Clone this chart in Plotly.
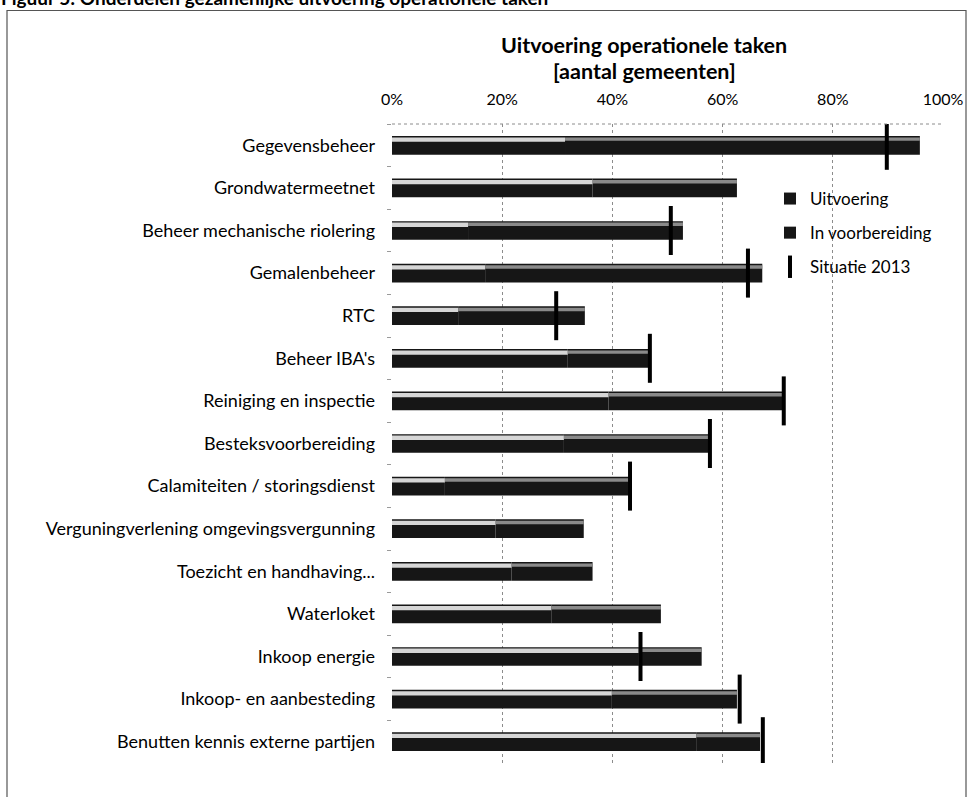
import plotly.graph_objects as go

# ---------------- data ----------------
categories = [
    "Gegevensbeheer",
    "Grondwatermeetnet",
    "Beheer mechanische riolering",
    "Gemalenbeheer",
    "RTC",
    "Beheer IBA's",
    "Reiniging en inspectie",
    "Besteksvoorbereiding",
    "Calamiteiten / storingsdienst",
    "Verguningverlening omgevingsvergunning",
    "Toezicht en handhaving...",
    "Waterloket",
    "Inkoop energie",
    "Inkoop- en aanbesteding",
    "Benutten kennis externe partijen",
]
uitvoering = [31.4, 36.4, 13.8, 16.9, 12.0, 31.9, 39.3, 31.2, 9.6, 18.8, 21.7, 28.9, 44.8, 39.9, 55.2]
voorbereiding = [64.4, 26.2, 39.0, 50.3, 23.0, 14.9, 31.8, 26.5, 33.6, 16.0, 14.7, 19.9, 11.4, 22.7, 11.6]
situatie_2013 = [89.8, None, 50.6, 64.6, 29.8, 46.8, 71.1, 57.7, 43.2, None, None, None, 45.1, 63.1, 67.3]
x_tick_values = [0, 20, 40, 60, 80, 100]
x_tick_labels = ["0%", "20%", "40%", "60%", "80%", "100%"]

# ---------------- layout geometry ----------------
W, H = 973, 797
L, R, T, B = 392, 30, 124, 34
PW, PH = W - L - R, H - T - B


def px_x(px):
    return (px - L) / PW


def px_y(py):
    return 1 - (py - T) / PH


FONT = "Lato, 'Open Sans', sans-serif"
DARK = "#161616"
BAR_W = 0.44
n = len(categories)

fig = go.Figure()

# main (dark) stacked segments
fig.add_trace(go.Bar(
    y=categories, x=uitvoering, base=[0] * n, orientation="h",
    name="Uitvoering", legendgroup="u",
    marker=dict(color=DARK, line=dict(width=0)),
    width=BAR_W, offset=-BAR_W / 2,
))
fig.add_trace(go.Bar(
    y=categories, x=voorbereiding, base=uitvoering, orientation="h",
    name="In voorbereiding", legendgroup="v",
    marker=dict(color=DARK, line=dict(width=0)),
    width=BAR_W, offset=-BAR_W / 2,
))
# highlight bands (shading on top of each segment)
fig.add_trace(go.Bar(
    y=categories, x=uitvoering, base=[0] * n, orientation="h",
    showlegend=False, hoverinfo="skip",
    marker=dict(color="#d6d6d6", line=dict(width=0)),
    width=0.1, offset=-0.185,
))
fig.add_trace(go.Bar(
    y=categories, x=voorbereiding, base=uitvoering, orientation="h",
    showlegend=False, hoverinfo="skip",
    marker=dict(color="#8a8a8a", line=dict(width=0)),
    width=0.08, offset=-0.185,
))
# situatie 2013 markers
fig.add_trace(go.Scatter(
    y=categories, x=situatie_2013, mode="markers", name="Situatie 2013",
    legendgroup="s",
    marker=dict(symbol="line-ns-open", size=35, color="#000000",
                line=dict(width=4, color="#000000")),
))

fig.update_layout(
    width=W, height=H,
    margin=dict(l=L, r=R, t=T, b=B, autoexpand=False),
    barmode="overlay",
    paper_bgcolor="white", plot_bgcolor="white",
    font=dict(family=FONT, size=15, color="#000000"),
    xaxis=dict(
        side="top", range=[0, 100],
        tickvals=x_tick_values, ticktext=x_tick_labels,
        showgrid=True, gridcolor="#8c8c8c", griddash="dot", gridwidth=1,
        zeroline=False, showline=False, ticks="",
        ticklabelstandoff=15,
        tickfont=dict(size=16),
        automargin=False,
    ),
    yaxis=dict(
        type="category", range=[n - 0.5, -0.5],
        showgrid=False, zeroline=False, showline=False,
        ticks="outside", ticklen=4, tickcolor="#9a9a9a", tickson="boundaries",
        ticklabelstandoff=16,
        tickfont=dict(size=18),
        automargin=False,
    ),
    legend=dict(
        x=px_x(770), y=px_y(181), xanchor="left", yanchor="top",
        font=dict(size=17), bgcolor="rgba(0,0,0,0)",
        tracegroupgap=9, itemsizing="trace",
    ),
    showlegend=True,
    shapes=[
        # dotted top edge of the plot area
        dict(type="line", xref="x domain", yref="y domain", x0=0, x1=1, y0=1, y1=1,
             line=dict(color="#8c8c8c", width=1, dash="dot")),
        # outer frame of the figure
        dict(type="rect", xref="paper", yref="paper",
             x0=px_x(7), x1=px_x(966), y0=px_y(805), y1=px_y(10.5),
             line=dict(color="#555555", width=1.2)),
    ],
    annotations=[
        dict(text="<b>Figuur 5: Onderdelen gezamenlijke uitvoering operationele taken</b>",
             xref="paper", yref="paper", x=px_x(-1), y=px_y(-3),
             xanchor="left", yanchor="middle", showarrow=False,
             font=dict(family=FONT, size=19, color="#000000")),
        dict(text="<b>Uitvoering operationele taken</b>",
             xref="paper", yref="paper", x=px_x(644), y=px_y(45),
             xanchor="center", yanchor="middle", showarrow=False,
             font=dict(family=FONT, size=21.5, color="#000000")),
        dict(text="<b>[aantal gemeenten]</b>",
             xref="paper", yref="paper", x=px_x(644), y=px_y(71),
             xanchor="center", yanchor="middle", showarrow=False,
             font=dict(family=FONT, size=21.5, color="#000000")),
    ],
)

fig.write_html("out.html", config={"displayModeBar": False},
               post_script="document.body.style.margin='0px';")
